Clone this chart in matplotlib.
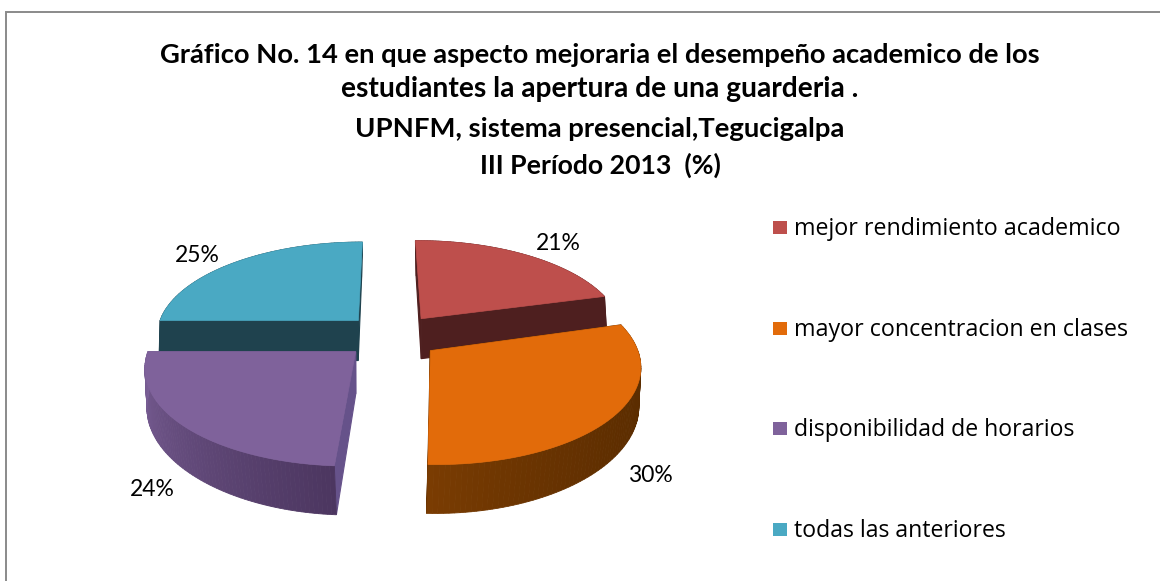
import numpy as np
import matplotlib
matplotlib.use("Agg")
import matplotlib.pyplot as plt
from matplotlib.colors import to_rgb
from matplotlib.patches import Polygon, Rectangle

categories = ["mejor rendimiento academico", "mayor concentracion en clases",
              "disponibilidad de horarios", "todas las anteriores"]
values = [21, 30, 24, 25]
title_lines = ["Gráfico No. 14 en que aspecto mejoraria el desempeño academico de los",
               "estudiantes la apertura de una guarderia .",
               "UPNFM, sistema presencial,Tegucigalpa",
               "III Período 2013  (%)"]
top_colors = ["#BE4F4C", "#E26B0A", "#7F629B", "#4AA9C3"]
cut_colors = ["#4E1F1F", "#5A2C00", "#66528A", "#1F424E"]
rim_start = ["#4E1F1F", "#5A2C00", "#4C3660", "#1F424E"]
rim_end = ["#4E1F1F", "#7A3C02", "#7A5F96", "#1F424E"]
rim_gamma = [1, 2.5, 1, 1]
slice_rot = [-0.7, -1.5, 0, 0]

W, H = 1160, 581
fig = plt.figure(figsize=(W / 100, H / 100), dpi=100, facecolor="white")
ax = fig.add_axes([0, 0, 1, 1])
ax.set_xlim(0, W)
ax.set_ylim(H, 0)
ax.axis("off")

# chart frame
ax.plot([5.5, 5.5, W], [H, 11.5, 11.5], color="#8A8A8A", lw=1.4, solid_joinstyle="miter")

# projection of the exploded disc
XC, YC, RX, RY, P, EXPL, DEPTH = 392, 336, 203, 93.5, 0.14, 0.24, 41


def project(u, v, low=False):
    s = 1 / (1 - P * v)
    x, y = XC + RX * u * s, YC + RY * v * s
    if low:
        x = x + 2.7e-4 * (y - YC) * (XC - x)
        y = y + DEPTH * s
    return np.array([x, y])


def slice_points(a0, a1, rot, low=False, n=80):
    mid = np.radians((a0 + a1) / 2)
    ou, ov = EXPL * np.sin(mid), -EXPL * np.cos(mid)
    th = np.radians(np.linspace(a0 + rot, a1 + rot, n))
    rim = np.array([project(ou + np.sin(t), ov - np.cos(t), low) for t in th])
    apex = project(ou, ov, low)
    return apex, rim


edges = 3.6 * np.concatenate([[0], np.cumsum(values)])
spans = list(zip(edges[:-1], edges[1:]))


def draw(i):
    a0, a1 = spans[i]
    at, rt = slice_points(a0, a1, slice_rot[i])
    ab, rb = slice_points(a0, a1, slice_rot[i], low=True)
    # radial cut faces
    for k in (0, -1):
        face = np.array([at, rt[k], rb[k], ab])
        ax.add_patch(Polygon(face, closed=True, fc=cut_colors[i], ec=cut_colors[i], lw=0.8))
    # outer wall with a colour ramp
    c0, c1 = np.array(to_rgb(rim_start[i])), np.array(to_rgb(rim_end[i]))
    n = len(rt)
    for j in range(n - 1):
        t = (j / (n - 2)) ** rim_gamma[i]
        col = c0 + (c1 - c0) * t
        quad = np.array([rt[j], rt[j + 1], rb[j + 1], rb[j]])
        ax.add_patch(Polygon(quad, closed=True, fc=col, ec=col, lw=0.6))
    # top surface
    ax.add_patch(Polygon(np.vstack([at, rt]), closed=True, fc=top_colors[i],
                         ec=top_colors[i], lw=0.5))


# back slices first, front slices over them
for i in (0, 3, 1, 2):
    draw(i)

FONT_TITLE = "Lato"
FONT_TEXT = "Open Sans"
r = fig.canvas.get_renderer()


def fitted(x, y, s, width, family, weight="normal", ha="center"):
    t = ax.text(x, y, s, ha=ha, va="center", family=family, weight=weight,
                fontsize=18, color="black")
    w = t.get_window_extent(r).width
    t.set_fontsize(18 * width / w)
    return t


title_y = [55, 89, 129, 165]
title_w = [883, 517, 490, 241]
for s, y, w in zip(title_lines, title_y, title_w):
    fitted(600, y, s, w, FONT_TITLE, "bold")

label_pos = [(558, 244), (650, 476), (152, 489), (197, 256)]
for v, (x, y) in zip(values, label_pos):
    fitted(x, y, f"{v}%", 45, FONT_TITLE)

legend_y = [229, 330, 430, 531]
legend_w = [326, 333, 280, 212]
for name, col, y, w in zip(categories, top_colors, legend_y, legend_w):
    ax.add_patch(Rectangle((772.5, y - 8.5), 14.5, 13.5, fc=col, ec="none"))
    fitted(794, y, name, w, FONT_TEXT, ha="left")

fig.savefig("out.png", dpi=100, facecolor="white")
